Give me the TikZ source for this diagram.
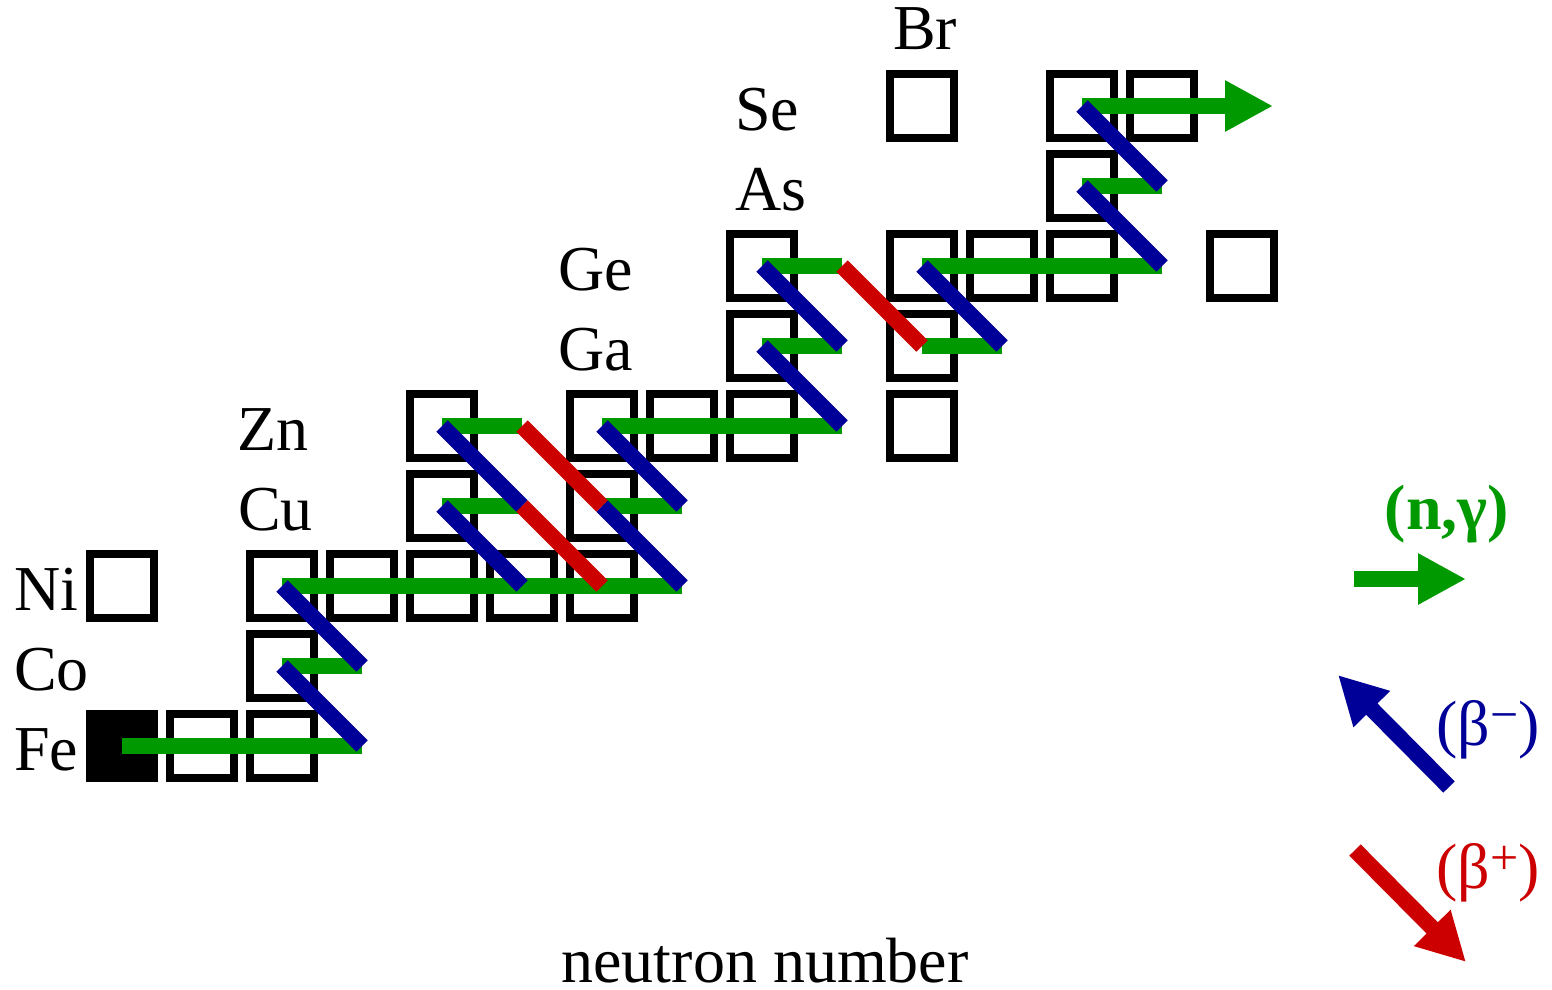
\documentclass[tikz,border=0pt]{standalone}
\usepackage{fontspec}
\setmainfont{Liberation Serif}
\usetikzlibrary{arrows.meta}
\definecolor{ngreen}{RGB}{0,153,0}
\definecolor{bblue}{RGB}{0,0,153}
\definecolor{bred}{RGB}{204,0,0}
\newcommand{\supsign}[1]{\raisebox{14pt}{\fontsize{50}{50}\selectfont #1}}
\tikzset{
  sq/.style={draw=black, line width=8pt, minimum size=64pt, inner sep=0pt, outer sep=0pt},
  sqfill/.style={sq, fill=black},
  gline/.style={draw=ngreen, line width=16pt, line cap=butt},
  bline/.style={draw=bblue, line width=16pt, line cap=butt},
  rline/.style={draw=bred, line width=16pt, line cap=butt},
  head/.style={-{Triangle[length=48pt,width=48pt]}},
  elem/.style={anchor=base west, inner sep=0pt, font=\fontsize{64}{70}\selectfont},
  legend/.style={inner sep=0pt, font=\fontsize{64}{70}\selectfont}
}
\begin{document}
\begin{tikzpicture}[x=1pt,y=-1pt]
\useasboundingbox (0,0) rectangle (1552,990);
% grid coordinates
\foreach \i in {0,...,14}{
  \foreach \j in {0,...,9}{
    \coordinate (p-\i-\j) at ({122+80*\i},{746-80*\j});
  }
}
% squares
\node[sqfill] (s-0-0) at (p-0-0) {};
\foreach \i/\j in {1/0,2/0,2/1,0/2,2/2,3/2,4/2,5/2,6/2,4/3,6/3,4/4,6/4,7/4,8/4,10/4,8/5,10/5,8/6,10/6,11/6,12/6,14/6,12/7,10/8,12/8,13/8}{
  \node[sq] (s-\i-\j) at (p-\i-\j) {};
}
% element labels
\node[elem] (lFe) at (14,770) {Fe};
\node[elem] (lCo) at (14,690) {Co};
\node[elem] (lNi) at (14,610) {Ni};
\node[elem] (lCu) at (238,530) {Cu};
\node[elem] (lZn) at (237,450) {Zn};
\node[elem] (lGa) at (558,370) {Ga};
\node[elem] (lGe) at (558,290) {Ge};
\node[elem] (lAs) at (735,210) {As};
\node[elem] (lSe) at (735,130) {Se};
\node[elem] (lBr) at (893,50) {Br};
\node[legend, anchor=base] (xlab) at (765,982) {neutron number};
% (n,gamma) paths
\draw[gline] (p-0-0) -- (p-3-0);
\draw[gline] (p-2-1) -- (p-3-1);
\draw[gline] (p-2-2) -- (p-7-2);
\draw[gline] (p-4-3) -- (p-5-3);
\draw[gline] (p-6-3) -- (p-7-3);
\draw[gline] (p-4-4) -- (p-5-4);
\draw[gline] (p-6-4) -- (p-9-4);
\draw[gline] (p-8-5) -- (p-9-5);
\draw[gline] (p-10-5) -- (p-11-5);
\draw[gline] (p-8-6) -- (p-9-6);
\draw[gline] (p-10-6) -- (p-13-6);
\draw[gline] (p-12-7) -- (p-13-7);
\coordinate (setip) at (1273,106);
\draw[gline, head] (p-12-8) -- (setip);
% beta- decays
\foreach \a/\b/\c/\d in {2/2/3/1, 2/1/3/0, 4/4/5/3, 4/3/5/2, 6/4/7/3, 6/3/7/2, 8/6/9/5, 8/5/9/4, 10/6/11/5, 12/8/13/7, 12/7/13/6}{
  \draw[bline] (p-\a-\b) -- (p-\c-\d);
}
% beta+ decays
\foreach \a/\b/\c/\d in {5/4/6/3, 5/3/6/2, 9/6/10/5}{
  \draw[rline] (p-\a-\b) -- (p-\c-\d);
}
% legend
\coordinate (ng0) at (1354,579);
\coordinate (ng1) at (1466,579);
\draw[gline, head] (ng0) -- (ng1);
\node[legend, text=ngreen] (ngl) at (1447,514) {\textbf{(n,γ)}};
\coordinate (bm0) at (1449,787);
\coordinate (bm1) at (1338,675);
\draw[bline, head] (bm0) -- (bm1);
\node[legend, text=bblue, anchor=base] (bml) at (1488,745) {(β\supsign{−})};
\coordinate (bp0) at (1355,850);
\coordinate (bp1) at (1466,962);
\draw[rline, head] (bp0) -- (bp1);
\node[legend, text=bred, anchor=base] (bpl) at (1488,888) {(β\supsign{+})};
\end{tikzpicture}
\end{document}
